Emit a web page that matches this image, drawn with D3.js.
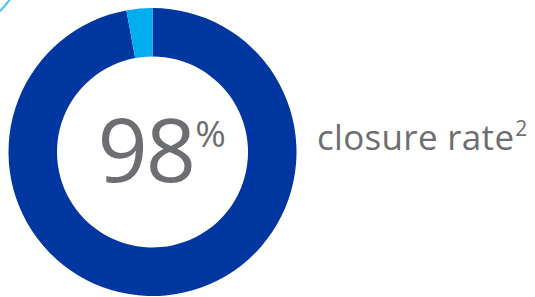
<!DOCTYPE html>
<html>
<head>
<meta charset="utf-8">
<script src="https://cdn.jsdelivr.net/npm/d3@7"></script>
<style>
  body { margin: 0; background: #fff; }
  svg { display: block; }
  text { font-family: "Open Sans", "Noto Sans", sans-serif; fill: #6d6e71; }
</style>
</head>
<body>
<svg width="535" height="297"></svg>
<script>
// data
let categories = ["closed", "not closed"];
let shares = [97.1, 2.9];          // arc sizes as drawn
let colours = ["#00369f", "#00adef"];
let headline = "98";
let label = "closure rate";
let footnote = "2";

let svg = d3.select("svg");

// bout d'anneau du graphique voisin, en haut a gauche
svg.append("circle")
    .attr("cx", -66)
    .attr("cy", -56)
    .attr("r", 94)
    .attr("fill", "none")
    .attr("stroke", "#4fc3f0")
    .attr("stroke-width", 2.2);

// anneau
let centre = svg.append("g")
    .attr("transform", "translate(152.5,152)");

let pie = d3.pie()
    .sort(null);

let arc = d3.arc()
    .innerRadius(95.5)
    .outerRadius(144);

centre.selectAll("path")
    .data(pie(shares))
    .enter()
    .append("path")
    .attr("d", arc)
    .attr("fill", (d, i) => colours[i]);

// texte central
let big = centre.append("text")
    .attr("x", -55)
    .attr("y", 30)
    .style("font-size", "88px")
    .style("letter-spacing", "-2px");
big.append("tspan").text(headline);
big.append("tspan")
    .attr("dx", 1)
    .attr("dy", -35)
    .style("font-size", "37px")
    .style("letter-spacing", "0px")
    .text("%");

// libelle
let lab = svg.append("text")
    .attr("x", 317)
    .attr("y", 150)
    .style("font-size", "35px")
    .style("letter-spacing", "0.3px");
lab.append("tspan").text(label);
lab.append("tspan")
    .attr("dx", 1)
    .attr("dy", -14)
    .style("font-size", "21px")
    .text(footnote);
</script>
</body>
</html>
